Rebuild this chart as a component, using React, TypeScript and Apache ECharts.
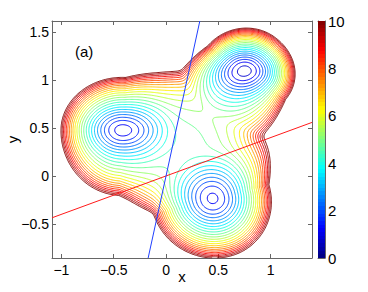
import React, { useEffect, useRef } from "react";
import * as echarts from "echarts";

// ---- data ----
// three wells of the potential: centre, minimum, core depth/size, outward direction, semi-axes
const wellCenterX = [-0.415, 0.75, 0.446];
const wellCenterY = [0.477, 1.096, -0.236];
const wellMin = [1.0, 0.6, 1.1];
const wellCoreDepth = [2.5, 3.0, 2.5];
const wellCoreX = [0.342, 0.33, 0.32];
const wellCoreY = [0.233, 0.24, 0.32];
const wellAngle = [177, 53, -74.8];
const wellOuter = [0.585, 0.45, 0.62];
const wellInner = [0.9, 0.9, 0.85];
const wellSidePos = [0.68, 0.43, 0.553];
const wellSideNeg = [0.55, 0.489, 0.584];
const wellEgg = [0.6, 0.6, 0.8];
// the flat central shelf joining the wells
const shelfCenter = [0.15, 0.33];
const shelfMin = 4.6;
const shelfRadius = 0.76;
const wallLevel = 10;
const softness = 0.5;

const contourLevels = [
  0.4, 0.8, 1.2, 1.6, 2, 2.4, 2.8, 3.2, 3.6, 4, 4.4, 4.8, 5.2, 5.6, 6, 6.4, 6.8,
  7.2, 7.6, 8, 8.4, 8.8, 9.2, 9.6, 10,
];

const xRange = [-1.09, 1.395];
const yRange = [-0.855, 1.615];
const xTicks = [-1, -0.5, 0, 0.5, 1];
const yTicks = [-0.5, 0, 0.5, 1, 1.5];
const colorMin = 0;
const colorMax = 10;
const colorStep = 2;

const redLineX = [-1.09, 1.395];
const redLineY = [-0.436, 0.558];
const blueLineX = [-0.171, 0.323];
const blueLineY = [-0.855, 1.615];

const FONT = "Liberation Sans, Arial, Helvetica, sans-serif";
const AXIS_COLOR = "#666";

function clamp01(v: number) {
  return Math.max(0, Math.min(1, v));
}
function jet(t: number) {
  t = clamp01(t);
  const r = clamp01(Math.min(4 * t - 1.5, -4 * t + 4.5));
  const g = clamp01(Math.min(4 * t - 0.5, -4 * t + 3.5));
  const b = clamp01(Math.min(4 * t + 0.5, -4 * t + 2.5));
  const h = (v: number) => Math.round(v * 255);
  return `rgb(${h(r)},${h(g)},${h(b)})`;
}

function wellValue(i: number, x: number, y: number) {
  const dx = x - wellCenterX[i];
  const dy = y - wellCenterY[i];
  const a = (wellAngle[i] * Math.PI) / 180;
  const c = Math.cos(a);
  const s = Math.sin(a);
  const u = c * dx + s * dy;
  const v = -s * dx + c * dy;
  const au = u >= 0 ? wellOuter[i] : wellInner[i];
  const grow = u < 0 ? 1 + wellEgg[i] * -u : 1;
  const av = (v >= 0 ? wellSidePos[i] : wellSideNeg[i]) * grow;
  const r2 = (u / au) * (u / au) + (v / av) * (v / av);
  const rc2 = (dx / wellCoreX[i]) ** 2 + (dy / wellCoreY[i]) ** 2;
  const core = wellCoreDepth[i] * (1 - Math.exp(-rc2));
  const wall = (wallLevel - wellMin[i] - wellCoreDepth[i]) * (0.75 * r2 + 0.25 * r2 * r2 * r2);
  return wellMin[i] + core + wall;
}

function shelfValue(x: number, y: number) {
  const dx = x - shelfCenter[0];
  const dy = y - shelfCenter[1];
  const r2 = (dx * dx + dy * dy) / (shelfRadius * shelfRadius);
  return shelfMin + (wallLevel - shelfMin) * (0.5 * r2 + 0.5 * r2 * r2 * r2);
}

function potential(x: number, y: number) {
  const w = wellCenterX.map((_, i) => wellValue(i, x, y));
  w.push(shelfValue(x, y));
  const m = Math.min(...w);
  let sum = 0;
  for (const wi of w) sum += Math.exp(-(wi - m) / softness);
  return m - softness * Math.log(sum);
}

function buildContours() {
  const nx = 300;
  const ny = 285;
  const xs: number[] = [];
  const ys: number[] = [];
  for (let i = 0; i < nx; i++) xs.push(xRange[0] + ((xRange[1] - xRange[0]) * i) / (nx - 1));
  for (let j = 0; j < ny; j++) ys.push(yRange[0] + ((yRange[1] - yRange[0]) * j) / (ny - 1));
  const g = new Float64Array(nx * ny);
  for (let j = 0; j < ny; j++) for (let i = 0; i < nx; i++) g[j * nx + i] = potential(xs[i], ys[j]);

  const offV = nx * ny;
  return contourLevels.map((L) => {
    const pts = new Map<number, number[]>();
    const adj = new Map<number, number[]>();
    const link = (a: number, b: number) => {
      if (!adj.has(a)) adj.set(a, []);
      if (!adj.has(b)) adj.set(b, []);
      adj.get(a)!.push(b);
      adj.get(b)!.push(a);
    };
    for (let j = 0; j < ny - 1; j++) {
      for (let i = 0; i < nx - 1; i++) {
        const v0 = g[j * nx + i];
        const v1 = g[j * nx + i + 1];
        const v2 = g[(j + 1) * nx + i + 1];
        const v3 = g[(j + 1) * nx + i];
        let c = 0;
        if (v0 > L) c |= 1;
        if (v1 > L) c |= 2;
        if (v2 > L) c |= 4;
        if (v3 > L) c |= 8;
        if (c === 0 || c === 15) continue;
        const edge = (k: number) => {
          let key: number;
          if (k === 0) {
            key = j * nx + i;
            if (!pts.has(key)) {
              const t = (L - v0) / (v1 - v0);
              pts.set(key, [xs[i] + t * (xs[i + 1] - xs[i]), ys[j]]);
            }
          } else if (k === 1) {
            key = offV + j * nx + i + 1;
            if (!pts.has(key)) {
              const t = (L - v1) / (v2 - v1);
              pts.set(key, [xs[i + 1], ys[j] + t * (ys[j + 1] - ys[j])]);
            }
          } else if (k === 2) {
            key = (j + 1) * nx + i;
            if (!pts.has(key)) {
              const t = (L - v3) / (v2 - v3);
              pts.set(key, [xs[i] + t * (xs[i + 1] - xs[i]), ys[j + 1]]);
            }
          } else {
            key = offV + j * nx + i;
            if (!pts.has(key)) {
              const t = (L - v0) / (v3 - v0);
              pts.set(key, [xs[i], ys[j] + t * (ys[j + 1] - ys[j])]);
            }
          }
          return key;
        };
        const seg = (a: number, b: number) => link(edge(a), edge(b));
        const center = (v0 + v1 + v2 + v3) / 4 > L;
        switch (c) {
          case 1: seg(0, 3); break;
          case 2: seg(0, 1); break;
          case 3: seg(3, 1); break;
          case 4: seg(1, 2); break;
          case 5: if (center) { seg(0, 1); seg(2, 3); } else { seg(0, 3); seg(1, 2); } break;
          case 6: seg(0, 2); break;
          case 7: seg(3, 2); break;
          case 8: seg(3, 2); break;
          case 9: seg(0, 2); break;
          case 10: if (center) { seg(0, 3); seg(1, 2); } else { seg(0, 1); seg(2, 3); } break;
          case 11: seg(1, 2); break;
          case 12: seg(3, 1); break;
          case 13: seg(0, 1); break;
          case 14: seg(0, 3); break;
        }
      }
    }
    const paths: number[][][] = [];
    const walk = (s: number) => {
      const path = [pts.get(s)!];
      let cur = s;
      for (;;) {
        const nb = adj.get(cur);
        if (!nb || nb.length === 0) break;
        const nxt = nb.pop()!;
        const back = adj.get(nxt)!;
        const idx = back.indexOf(cur);
        if (idx >= 0) back.splice(idx, 1);
        path.push(pts.get(nxt)!);
        cur = nxt;
      }
      return path;
    };
    for (const [k, nb] of adj) if (nb.length === 1) paths.push(walk(k));
    for (const [k, nb] of adj) if (nb.length > 0) paths.push(walk(k));
    return { level: L, paths };
  });
}

function fmt(v: number) {
  return String(v).replace("-", "\u2212");
}

function buildOption(): echarts.EChartsCoreOption {
  const contours = buildContours();
  const stops: { offset: number; color: string }[] = [];
  const nBands = 64;
  for (let k = 0; k < nBands; k++) {
    const col = jet((k + 0.5) / nBands);
    stops.push({ offset: k / nBands, color: col });
    stops.push({ offset: (k + 1) / nBands, color: col });
  }
  const labelStyle = { color: "#000", fontSize: 14, fontFamily: FONT };
  const line = { show: true, onZero: false, lineStyle: { color: AXIS_COLOR, width: 1 } };
  const tick = (vals: number[]) => ({
    show: true,
    inside: true,
    length: 4,
    customValues: vals,
    lineStyle: { color: AXIS_COLOR, width: 1 },
  });

  const contourSeries = contours.map((c) => ({
    type: "lines",
    coordinateSystem: "cartesian2d",
    xAxisIndex: 0,
    yAxisIndex: 0,
    polyline: true,
    silent: true,
    z: 2,
    lineStyle: { color: jet((c.level - colorMin) / (colorMax - colorMin)), width: 1, opacity: 1 },
    data: c.paths.map((p) => ({ coords: p })),
  }));

  return {
    animation: false,
    backgroundColor: "#fff",
    textStyle: { fontFamily: FONT },
    grid: [
      { left: 52, top: 21, width: 260, height: 237, containLabel: false, outerBoundsMode: "none" },
      { left: 318, top: 21, width: 7, height: 237, containLabel: false, outerBoundsMode: "none" },
    ],
    xAxis: [
      {
        type: "value",
        gridIndex: 0,
        position: "bottom",
        min: xRange[0],
        max: xRange[1],
        axisLine: line,
        axisTick: tick(xTicks),
        splitLine: { show: false },
        axisLabel: { ...labelStyle, customValues: xTicks, formatter: fmt, margin: 5 },
        name: "x",
        nameLocation: "middle",
        nameGap: 18,
        nameMoveOverlap: false,
        nameTextStyle: { ...labelStyle, fontSize: 15, verticalAlign: "middle" },
      },
      {
        type: "value",
        gridIndex: 0,
        position: "top",
        min: xRange[0],
        max: xRange[1],
        axisLine: line,
        axisTick: tick(xTicks),
        splitLine: { show: false },
        axisLabel: { show: false },
      },
      {
        type: "category",
        gridIndex: 1,
        position: "bottom",
        data: ["c"],
        axisLine: line,
        axisTick: { show: false },
        axisLabel: { show: false },
      },
      {
        type: "category",
        gridIndex: 1,
        position: "top",
        data: ["c"],
        axisLine: line,
        axisTick: { show: false },
        axisLabel: { show: false },
      },
    ],
    yAxis: [
      {
        type: "value",
        gridIndex: 0,
        position: "left",
        min: yRange[0],
        max: yRange[1],
        axisLine: line,
        axisTick: tick(yTicks),
        splitLine: { show: false },
        axisLabel: { ...labelStyle, customValues: yTicks, formatter: fmt, margin: 3 },
        name: "y",
        nameLocation: "middle",
        nameGap: 40,
        nameRotate: 90,
        nameMoveOverlap: false,
        nameTextStyle: { ...labelStyle, fontSize: 15, verticalAlign: "middle" },
      },
      {
        type: "value",
        gridIndex: 0,
        position: "right",
        min: yRange[0],
        max: yRange[1],
        axisLine: line,
        axisTick: tick(yTicks),
        splitLine: { show: false },
        axisLabel: { show: false },
      },
      {
        type: "value",
        gridIndex: 1,
        position: "left",
        min: colorMin,
        max: colorMax,
        interval: colorStep,
        axisLine: line,
        axisTick: { show: true, inside: true, length: 2, lineStyle: { color: AXIS_COLOR } },
        splitLine: { show: false },
        axisLabel: { show: false },
      },
      {
        type: "value",
        gridIndex: 1,
        position: "right",
        min: colorMin,
        max: colorMax,
        interval: colorStep,
        axisLine: line,
        axisTick: { show: true, inside: true, length: 2, lineStyle: { color: AXIS_COLOR } },
        splitLine: { show: false },
        axisLabel: { ...labelStyle, fontSize: 15, margin: 3 },
      },
    ],
    graphic: [
      {
        type: "text",
        left: 75,
        top: 44,
        style: { text: "(a)", fill: "#000", fontSize: 15, fontFamily: FONT },
      },
    ],
    series: [
      ...contourSeries,
      {
        type: "line",
        xAxisIndex: 0,
        yAxisIndex: 0,
        showSymbol: false,
        silent: true,
        z: 3,
        lineStyle: { color: "#ff1a1a", width: 1 },
        data: redLineX.map((x, i) => [x, redLineY[i]]),
      },
      {
        type: "line",
        xAxisIndex: 0,
        yAxisIndex: 0,
        showSymbol: false,
        silent: true,
        z: 3,
        lineStyle: { color: "#2040ff", width: 1 },
        data: blueLineX.map((x, i) => [x, blueLineY[i]]),
      },
      {
        type: "bar",
        xAxisIndex: 2,
        yAxisIndex: 3,
        barWidth: "100%",
        silent: true,
        data: [colorMax],
        itemStyle: {
          color: { type: "linear", x: 0, y: 1, x2: 0, y2: 0, colorStops: stops },
        },
      },
    ],
  };
}

export default function App() {
  const ref = useRef<HTMLDivElement>(null);
  useEffect(() => {
    document.body.style.margin = "0";
    const chart = echarts.init(ref.current!, null, { renderer: "svg" });
    chart.setOption(buildOption());
    return () => chart.dispose();
  }, []);
  return <div ref={ref} style={{ width: 368, height: 292 }} />;
}
